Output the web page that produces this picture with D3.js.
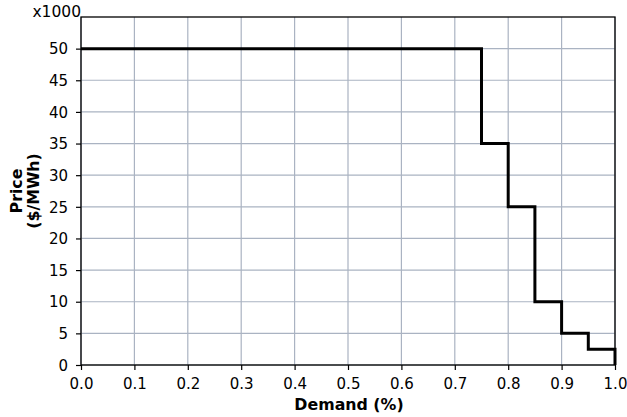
<!DOCTYPE html>
<html><head><meta charset="utf-8">
<script src="https://cdn.jsdelivr.net/npm/d3@7"></script>
<style>body{margin:0;background:#fff}svg{display:block;font-family:"DejaVu Sans",sans-serif}</style>
</head><body><svg id="c" width="627" height="417"></svg>
<script>
const stepX = [0, 0.75, 0.8, 0.85, 0.9, 0.95, 1.0];
const stepY = [50, 35, 25, 10, 5, 2.5, 0];
const xTicks = [0,0.1,0.2,0.3,0.4,0.5,0.6,0.7,0.8,0.9,1.0];
const yTicks = [0,5,10,15,20,25,30,35,40,45,50];

const svg = d3.select("#c");
const L=81, R=615, T=17, B=365;
const x = d3.scaleLinear().domain([0,1]).range([L,R]);
const y = d3.scaleLinear().domain([0,55]).range([B,T]);

const g = svg.append("g");
g.selectAll(".vg").data(xTicks).join("line").attr("x1",d=>x(d)).attr("x2",d=>x(d)).attr("y1",T).attr("y2",B)
 .attr("stroke","#aab3c2").attr("stroke-width",1.2);
g.selectAll(".hg").data(yTicks).join("line").attr("y1",d=>y(d)).attr("y2",d=>y(d)).attr("x1",L).attr("x2",R)
 .attr("stroke","#aab3c2").attr("stroke-width",1.2);

const pts = [];
for (let i=0;i<stepX.length-1;i++){ pts.push([stepX[i],stepY[i]]); pts.push([stepX[i+1],stepY[i]]); }
pts.push([stepX[stepX.length-1], stepY[stepY.length-1]]);
g.append("path").attr("d", d3.line().x(d=>x(d[0])).y(d=>y(d[1]))(pts))
 .attr("fill","none").attr("stroke","#000").attr("stroke-width",3).attr("stroke-linejoin","miter");

g.append("rect").attr("x",L).attr("y",T).attr("width",R-L).attr("height",B-T).attr("fill","none").attr("stroke","#000").attr("stroke-width",1.3);

const xa = svg.append("g").attr("transform",`translate(0,${B})`)
 .call(d3.axisBottom(x).tickValues(xTicks).tickFormat(d3.format(".1f")).tickSize(5).tickSizeOuter(0));
const ya = svg.append("g").attr("transform",`translate(${L},0)`)
 .call(d3.axisLeft(y).tickValues(yTicks).tickFormat(d3.format("d")).tickSize(5).tickSizeOuter(0));
[xa,ya].forEach(a=>{a.select(".domain").remove();a.selectAll("line").attr("stroke","#000").attr("stroke-width",1.2);
 a.selectAll("text").attr("font-size",15).attr("font-family","DejaVu Sans").attr("fill","#000");});
xa.selectAll("text").attr("dy","0").attr("y",24);
ya.selectAll("text").attr("x",-13).attr("dy","0.35em");

svg.append("text").attr("x",L).attr("y",17).attr("text-anchor","end").attr("font-size",15.5).text("x1000");
svg.append("text").attr("x",(L+R)/2+1).attr("y",410).attr("text-anchor","middle").attr("font-size",15.8).attr("font-weight","bold").text("Demand (%)");
const yl = svg.append("text").attr("transform",`translate(0,${(T+B)/2}) rotate(-90)`).attr("text-anchor","middle").attr("font-size",15.8).attr("font-weight","bold");
yl.append("tspan").attr("x",0).attr("y",22).text("Price");
yl.append("tspan").attr("x",0).attr("y",39).text("($/MWh)");
</script></body></html>
